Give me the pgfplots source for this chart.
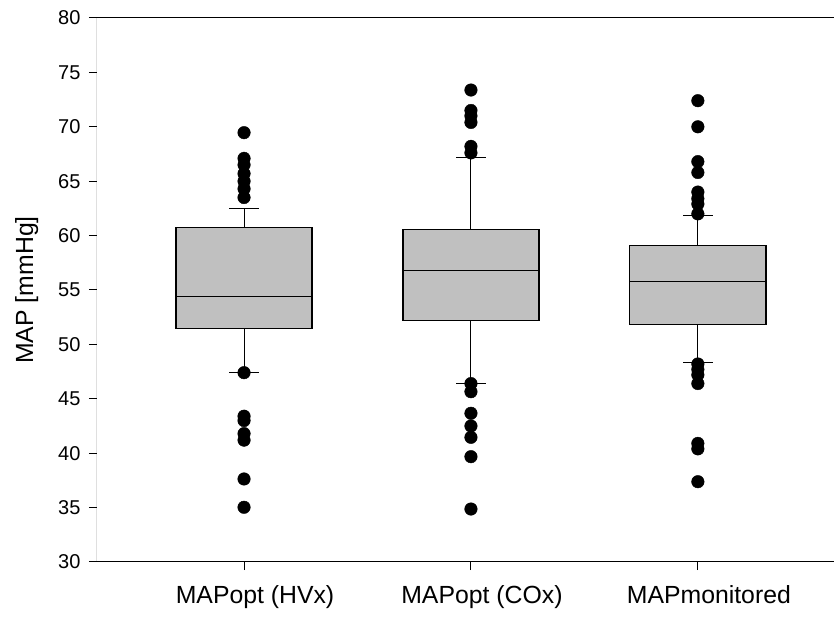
\documentclass[border=0pt]{standalone}
\usepackage{pgfplots}
\pgfplotsset{compat=1.18}
\usepackage{fontspec}
\setmainfont{Liberation Sans}
\definecolor{boxgray}{RGB}{192,192,192}

\begin{document}
\begin{tikzpicture}
\path[use as bounding box] (-97pt,-55pt) rectangle (737pt,562pt);
\begin{axis}[
  at={(0pt,0pt)}, anchor=south west,
  scale only axis, width=737pt, height=544pt,
  xmin=0.352, xmax=3.6, ymin=30, ymax=80,
  axis line style={draw=none},
  xtick={1,2,3},
  xticklabels={MAPopt (HVx), MAPopt (COx), MAPmonitored},
  xtick pos=bottom, ytick pos=left,
  ytick={30,35,...,80},
  tick align=outside,
  major tick length=8pt,
  tick style={line width=1pt, black},
  /pgf/number format/assume math mode=true,
  yticklabel style={font=\fontsize{20}{20}\selectfont, xshift=-5pt},
  xticklabel style={font=\fontsize{24.8}{26}\selectfont, yshift=-12pt, xshift=11pt},
  ylabel={\fontsize{24.8}{26}\selectfont MAP [mmHg]},
  every axis y label/.style={at={(rel axis cs:0,0.5)}, rotate=90,
    anchor=north, inner sep=0pt, yshift=82pt},
  whisk/.style={black, line width=1pt, no marks},
  box/.style={draw=black, fill=boxgray, line width=1.4pt, no marks},
  med/.style={black, line width=1pt, no marks},
  out/.style={only marks, mark=*, mark size=6.3pt, black, mark options={fill=black}},
]
% ---- MAPopt (HVx): whiskers 47.4 / 62.51, quartiles 51.44 / 60.73, median 54.42
\addplot[whisk] coordinates {(1,60.73) (1,62.51)};
\addplot[whisk] coordinates {(0.935,62.51) (1.065,62.51)};
\addplot[whisk] coordinates {(1,51.44) (1,47.4)};
\addplot[whisk] coordinates {(0.935,47.4) (1.065,47.4)};
\addplot[box] coordinates {(0.7,51.44) (1.3,51.44) (1.3,60.73) (0.7,60.73)} -- cycle;
\addplot[med] coordinates {(0.7,54.42) (1.3,54.42)};
\addplot[out] coordinates {
  (1,69.46) (1,67.1) (1,66.5) (1,65.7) (1,65.0) (1,64.3) (1,63.5)
  (1,47.4) (1,43.4) (1,43.0) (1,41.8) (1,41.2) (1,37.63) (1,35.03)};
% ---- MAPopt (COx): whiskers 46.45 / 67.16, quartiles 52.18 / 60.54, median 56.75
\addplot[whisk] coordinates {(2,60.54) (2,67.16)};
\addplot[whisk] coordinates {(1.935,67.16) (2.065,67.16)};
\addplot[whisk] coordinates {(2,52.18) (2,46.45)};
\addplot[whisk] coordinates {(1.935,46.45) (2.065,46.45)};
\addplot[box] coordinates {(1.7,52.18) (2.3,52.18) (2.3,60.54) (1.7,60.54)} -- cycle;
\addplot[med] coordinates {(1.7,56.75) (2.3,56.75)};
\addplot[out] coordinates {
  (2,73.38) (2,71.5) (2,71.0) (2,70.4) (2,68.2) (2,67.6)
  (2,46.4) (2,45.65) (2,43.67) (2,42.5) (2,41.46) (2,39.68) (2,34.87)};
% ---- MAPmonitored: whiskers 48.35 / 61.83, quartiles 51.85 / 59.07, median 55.76
\addplot[whisk] coordinates {(3,59.07) (3,61.83)};
\addplot[whisk] coordinates {(2.935,61.83) (3.065,61.83)};
\addplot[whisk] coordinates {(3,51.85) (3,48.35)};
\addplot[whisk] coordinates {(2.935,48.35) (3.065,48.35)};
\addplot[box] coordinates {(2.7,51.85) (3.3,51.85) (3.3,59.07) (2.7,59.07)} -- cycle;
\addplot[med] coordinates {(2.7,55.76) (3.3,55.76)};
\addplot[out] coordinates {
  (3,72.4) (3,70.0) (3,66.8) (3,65.8) (3,64.0) (3,63.4) (3,62.9) (3,62.0)
  (3,48.2) (3,47.7) (3,47.2) (3,46.4) (3,40.9) (3,40.4) (3,37.38)};
% frame: left, bottom and top spines
\draw[line width=1pt, black] (rel axis cs:1,1) -- (rel axis cs:0,1)
  -- (rel axis cs:0,0) -- (rel axis cs:1,0);
\end{axis}
\end{tikzpicture}
\end{document}
